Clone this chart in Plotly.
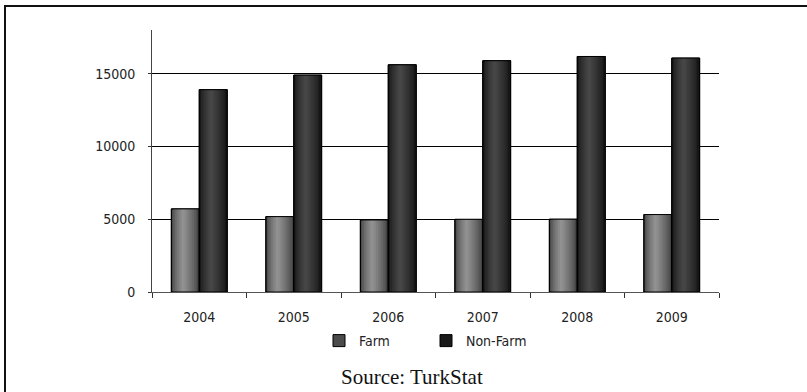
import plotly.graph_objects as go

years = ["2004", "2005", "2006", "2007", "2008", "2009"]
farm = [5710, 5180, 4950, 4990, 5000, 5320]
non_farm = [13900, 14900, 15610, 15890, 16180, 16070]

W, H = 807, 392
L, R, T, B = 152, 88, 30, 100
plot_w, plot_h = W - L - R, H - T - B

bar_w = 0.295
n_strips = 16


def shade(t, dark, light):
    # cylinder-like shading: dark edges, bright band left of centre
    if t < 0.42:
        k = (t / 0.42) ** 0.6
    else:
        k = ((1 - t) / 0.58) ** 0.7
    v = int(round(dark + (light - dark) * k))
    return f"rgb({v},{v},{v})"


fig = go.Figure()

series = [
    ("Farm", farm, -bar_w, 55, 148),
    ("Non-Farm", non_farm, 0.0, 14, 72),
]

for name, vals, base, dark, light in series:
    for i in range(n_strips):
        t = (i + 0.5) / n_strips
        off = base + i * bar_w / n_strips
        fig.add_trace(go.Bar(
            x=years, y=vals,
            offset=off, width=bar_w - i * bar_w / n_strips,
            marker=dict(color=shade(t, dark, light),
                        line=dict(width=1 if i == 0 else 0, color="#000")),
            name=name, legendgroup=name, showlegend=(i == 0),
            hoverinfo="skip",
        ))
    fig.add_trace(go.Bar(
        x=years, y=vals, offset=base, width=bar_w,
        marker=dict(color="rgba(0,0,0,0)", line=dict(width=1, color="#000")),
        name=name, legendgroup=name, showlegend=False,
    ))


def px_x(px):
    return (px - L) / plot_w


def px_y(py):
    return (H - B - py) / plot_h


fig.update_layout(
    width=W, height=H,
    margin=dict(l=L, r=R, t=T, b=B),
    barmode="overlay",
    paper_bgcolor="white", plot_bgcolor="white",
    font=dict(family="DejaVu Sans Condensed, Liberation Sans Narrow, sans-serif",
              size=14, color="#222"),
    showlegend=True,
    legend=dict(orientation="h", x=px_x(426), y=px_y(341),
                xanchor="center", yanchor="middle",
                font=dict(size=14, color="#222"),
                entrywidth=62, itemwidth=30, traceorder="normal"),
    xaxis=dict(type="category", showgrid=False, showline=True,
               linecolor="#555", linewidth=1,
               ticks="outside", ticklen=5, tickcolor="#333",
               tickson="boundaries", ticklabelstandoff=12,
               tickfont=dict(size=14)),
    yaxis=dict(range=[0, 18000], tickvals=[0, 5000, 10000, 15000],
               tickformat="d", showgrid=True, gridcolor="#000", gridwidth=1,
               showline=True, linecolor="#444", linewidth=1,
               ticks="outside", ticklen=3, tickcolor="#333",
               ticklabelstandoff=10, zeroline=False,
               tickfont=dict(size=14)),
    shapes=[dict(type="rect", xref="paper", yref="paper",
                 x0=px_x(5), x1=px_x(820), y0=px_y(400), y1=px_y(6),
                 line=dict(color="#111", width=2), layer="below")],
    annotations=[dict(text="Source: TurkStat", xref="paper", yref="paper",
                      x=px_x(412), y=px_y(377), xanchor="center",
                      yanchor="middle", showarrow=False,
                      font=dict(family="Liberation Serif, Times New Roman, serif",
                                size=21, color="#111"))],
)

fig.write_html("out.html")
